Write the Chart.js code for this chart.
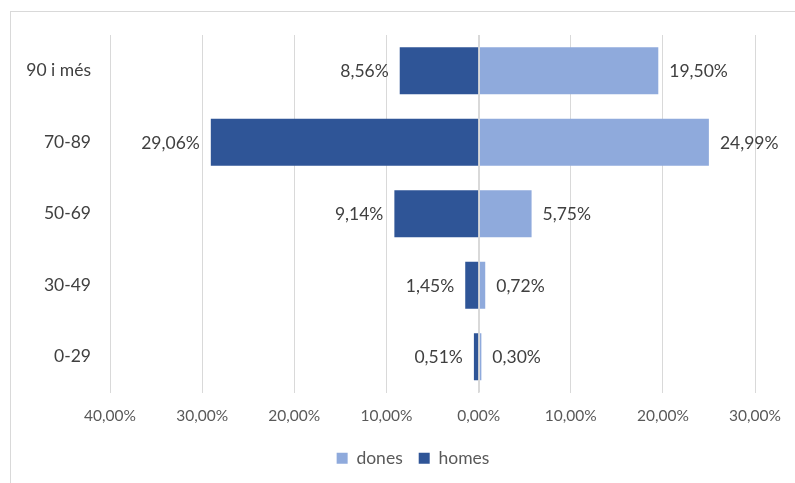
<!DOCTYPE html>
<html>
<head>
<meta charset="utf-8">
<script src="https://cdn.jsdelivr.net/npm/chart.js@4"></script>
<style>
  html, body { margin: 0; padding: 0; background: #fff; overflow: hidden; }
  #frame { position: absolute; left: 10px; top: 11px; width: 820px; height: 520px; border: 1px solid #d9d9d9; box-sizing: border-box; }
  #wrap { position: absolute; left: 0; top: 0; width: 795px; height: 483px; }
</style>
</head>
<body>
<div id="frame"></div>
<div id="wrap"><canvas id="c" width="795" height="483"></canvas></div>
<script>
const categories = ["90 i més", "70-89", "50-69", "30-49", "0-29"];
const dones = [19.50, 24.99, 5.75, 0.72, 0.30];
const homes = [-8.56, -29.06, -9.14, -1.45, -0.51];
const tickValues = [-40, -30, -20, -10, 0, 10, 20, 30];

const FONT = "Lato, 'Open Sans', sans-serif";
const fmt = v => Math.abs(v).toFixed(2).replace('.', ',') + '%';

const labelPlugin = {
  id: 'barLabels',
  afterLayout(chart) {
    const lg = chart.legend;
    if (lg) { lg.left += 27; lg.right += 27; }
  },
  afterDatasetsDraw(chart) {
    const ctx = chart.ctx;
    const xs = chart.scales.x;
    const x0 = Math.round(xs.getPixelForValue(0)) + 0.5;
    ctx.save();
    ctx.strokeStyle = '#d9d9d9';
    ctx.lineWidth = 1;
    ctx.beginPath();
    ctx.moveTo(x0, chart.chartArea.top);
    ctx.lineTo(x0, chart.chartArea.bottom);
    ctx.stroke();
    ctx.font = "17.5px " + FONT;
    ctx.fillStyle = '#404040';
    ctx.textBaseline = 'middle';
    chart.data.datasets.forEach((ds, di) => {
      const meta = chart.getDatasetMeta(di);
      meta.data.forEach((bar, i) => {
        const v = ds.data[i];
        if (v < 0) {
          ctx.textAlign = 'right';
          ctx.fillText(fmt(v), bar.x - 11, bar.y + 1);
        } else {
          ctx.textAlign = 'left';
          ctx.fillText(fmt(v), bar.x + 11, bar.y + 1);
        }
      });
    });
    ctx.restore();
  }
};

new Chart(document.getElementById('c'), {
  type: 'bar',
  data: {
    labels: categories,
    datasets: [
      { label: 'dones', data: dones, backgroundColor: '#8faadc', borderWidth: 0 },
      { label: 'homes', data: homes, backgroundColor: '#2f5597', borderWidth: 0 }
    ]
  },
  options: {
    indexAxis: 'y',
    responsive: false,
    animation: false,
    devicePixelRatio: 1,
    layout: { padding: { left: 10, right: 33, top: 35, bottom: 6 } },
    datasets: { bar: { categoryPercentage: 0.66, barPercentage: 1 } },
    scales: {
      x: {
        stacked: true,
        min: -40, max: 30,
        afterBuildTicks: s => { s.ticks = tickValues.map(v => ({ value: v })); },
        afterFit: s => { s.height = 41; },
        grid: { color: '#d9d9d9', drawTicks: false },
        border: { display: false },
        ticks: { color: '#595959', font: { family: FONT, size: 15.5 }, padding: 14, callback: v => fmt(v) }
      },
      y: {
        stacked: true,
        afterFit: s => { s.width = 100; },
        grid: { display: false },
        border: { display: false },
        ticks: { color: '#404040', font: { family: FONT, size: 17.5 }, padding: 11 }
      }
    },
    plugins: {
      legend: {
        position: 'bottom',
        labels: { boxWidth: 11, boxHeight: 11, color: '#595959', font: { family: FONT, size: 17.5 }, padding: 16 }
      },
      tooltip: { enabled: false }
    }
  },
  plugins: [labelPlugin]
});
</script>
</body>
</html>
